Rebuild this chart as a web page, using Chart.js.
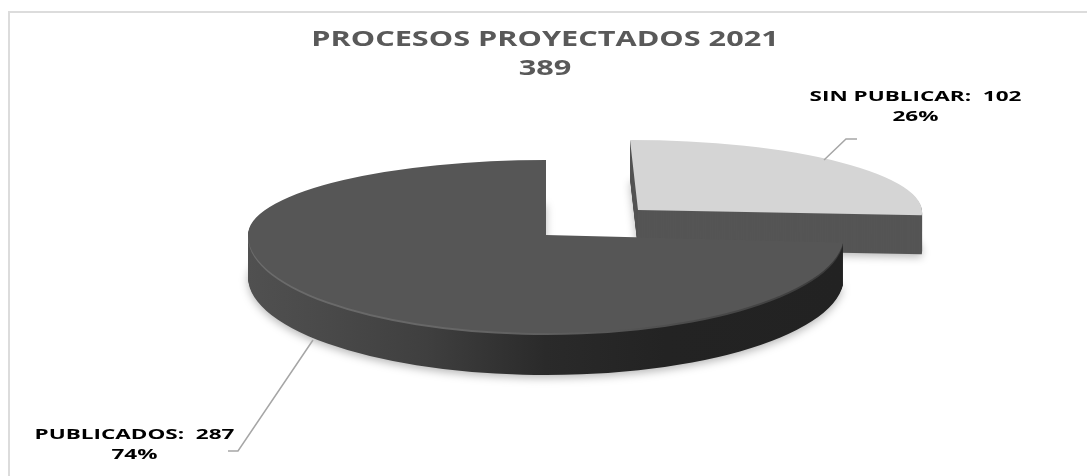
<!DOCTYPE html>
<html><head><meta charset="utf-8">
<style>html,body{margin:0;padding:0;background:#fff}canvas{display:block}</style>
<script src="https://cdn.jsdelivr.net/npm/chart.js@4"></script>
</head><body><canvas id="c" width="1087" height="476"></canvas>
<script>
const categories = ["SIN PUBLICAR", "PUBLICADOS"];
const values = [102, 287];
const titleLines = ["PROCESOS PROYECTADOS 2021", "389"];
const sliceColors = ["#d5d5d5", "#565656"];

// Perspective placement of each slice (apex, radii, depth), not data.
const placement = [
  {cx:638, cy:210, rx:284, ryUp:70, ryDown:70, shear:0.114, depth:39},
  {cx:546, cy:235, rx:298, ryUp:75, ryDown:98, shear:0, depth:42}
];
const leaders = [
  {pts:[[824,160],[846,139],[857,139]], tx:915.5, ty:[97,117]},
  {pts:[[313,340],[238,451],[228,451]], tx:134.5, ty:[435,455]}
];
const textStretch = 1.5, titleStretch = 1.46, titleCenter = 545;

function drawArcWith(arc, ctx, fill){
  const o = arc.options;
  arc.options = Object.assign(Object.create(o), {backgroundColor: fill, borderWidth: 0});
  arc.draw(ctx);
  arc.options = o;
}
function drawPlaced(ctx, arc, g, dy, fill){
  const R = arc.outerRadius, sx = g.rx / R;
  const parts = g.ryUp === g.ryDown ? [[g.ryUp, -1e4, 2e4]]
    : [[g.ryUp, -1e4, 1e4 + g.cy + dy], [g.ryDown, g.cy + dy, 1e4]];
  parts.forEach(([ry, top, h]) => {
    const sy = ry / R;
    ctx.save();
    ctx.beginPath(); ctx.rect(-1e4, top, 3e4, h); ctx.clip();
    ctx.transform(sx, 0, g.shear * sy, sy,
      g.cx - sx * arc.x - g.shear * sy * arc.y, g.cy + dy - sy * arc.y);
    drawArcWith(arc, ctx, typeof fill === 'function' ? fill(ctx, arc) : fill);
    ctx.restore();
  });
}
const wallGradient = stops => (ctx, arc) => {
  const gr = ctx.createLinearGradient(arc.x - arc.outerRadius, 0, arc.x + arc.outerRadius, 0);
  stops.forEach(([p, c]) => gr.addColorStop(p, c));
  return gr;
};
const darkWall = wallGradient([[0,'#505050'],[0.12,'#4a4a4a'],[0.3,'#3f3f3f'],[0.5,'#2a2a2a'],[0.7,'#232323'],[1,'#222222']]);
const rim = wallGradient([[0,'#6c6c6c'],[0.35,'#666666'],[0.55,'#5c5c5c'],[0.75,'#4a4a4a'],[1,'#3a3a3a']]);
const wallFills = ['#555555', darkWall];

const pie3d = {
  id: 'pie3d',
  afterLayout(chart){
    const box = chart.titleBlock;
    if (box._stretched) return;
    const draw = box.draw.bind(box);
    box._stretched = true;
    box.draw = function(){
      const ctx = chart.ctx, mid = chart.width / 2;
      ctx.save();
      ctx.translate(titleCenter, 0); ctx.scale(titleStretch, 1); ctx.translate(-mid, 0);
      draw();
      ctx.restore();
    };
  },
  beforeDraw(chart){
    const ctx = chart.ctx;
    ctx.save();
    ctx.fillStyle = '#fff'; ctx.fillRect(0, 0, 1087, 476);
    ctx.strokeStyle = '#dcdcdc'; ctx.lineWidth = 2;
    ctx.beginPath(); ctx.moveTo(9, 476); ctx.lineTo(9, 12); ctx.lineTo(1087, 12); ctx.stroke();
    ctx.restore();
  },
  beforeDatasetsDraw(chart){
    const ctx = chart.ctx, arcs = chart.getDatasetMeta(0).data;
    arcs.forEach((arc, i) => {
      const g = placement[i];
      ctx.save();
      ctx.shadowColor = 'rgba(0,0,0,0.28)'; ctx.shadowBlur = 9; ctx.shadowOffsetY = 3;
      drawPlaced(ctx, arc, g, g.depth, wallFills[i]);
      ctx.restore();
      for (let d = g.depth - 1; d > 0; d--) drawPlaced(ctx, arc, g, d, wallFills[i]);
      if (i === 1) drawPlaced(ctx, arc, g, 2, rim);
      drawPlaced(ctx, arc, g, 0, sliceColors[i]);
    });
    return false;
  },
  afterDraw(chart){
    const ctx = chart.ctx, total = values.reduce((a, b) => a + b, 0);
    ctx.save();
    leaders.forEach((l, i) => {
      ctx.strokeStyle = '#a6a6a6'; ctx.lineWidth = 1.5;
      ctx.beginPath();
      l.pts.forEach((p, k) => k ? ctx.lineTo(p[0], p[1]) : ctx.moveTo(p[0], p[1]));
      ctx.stroke();
      ctx.save();
      ctx.translate(l.tx, 0); ctx.scale(textStretch, 1);
      ctx.fillStyle = '#000';
      ctx.font = 'bold 15px "Open Sans"';
      ctx.textAlign = 'center'; ctx.textBaseline = 'middle';
      ctx.fillText(categories[i] + ':  ' + values[i], 0, l.ty[0]);
      ctx.fillText(Math.round(values[i] / total * 100) + '%', 0, l.ty[1]);
      ctx.restore();
    });
    ctx.restore();
  }
};

new Chart(document.getElementById('c'), {
  type: 'pie',
  data: { labels: categories, datasets: [{ data: values, backgroundColor: sliceColors, borderWidth: 0 }] },
  options: {
    responsive: false, animation: false,
    layout: { padding: 0 },
    plugins: {
      legend: { display: false }, tooltip: { enabled: false },
      title: { display: true, text: titleLines, color: '#595959',
        font: { family: '"Open Sans"', size: 21, weight: 'bold', lineHeight: 1.38 },
        padding: { top: 26, bottom: 4 } }
    }
  },
  plugins: [pie3d]
});
</script></body></html>
